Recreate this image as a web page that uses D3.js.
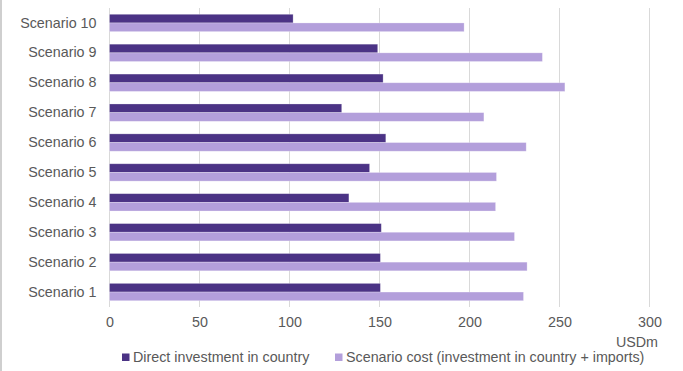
<!DOCTYPE html>
<html><head><meta charset="utf-8">
<script src="https://cdn.jsdelivr.net/npm/d3@7"></script>
<style>body{margin:0;background:#fff;} svg{display:block;font-family:"Liberation Sans",Arial,sans-serif;}</style>
</head><body><svg id="c" width="683" height="371"></svg>
<script>
const categories = ["Scenario 1","Scenario 2","Scenario 3","Scenario 4","Scenario 5","Scenario 6","Scenario 7","Scenario 8","Scenario 9","Scenario 10"];
const directInvestment = [150.5, 150.5, 151, 133, 144.5, 153.5, 129, 152, 149, 102];
const scenarioCost = [230, 232, 225, 214.5, 215, 231.5, 208, 253, 240.5, 197];
const seriesNames = ["Direct investment in country", "Scenario cost (investment in country + imports)"];
const xTicks = [0, 50, 100, 150, 200, 250, 300];
const unitLabel = "USDm";

const svg = d3.select("#c");
const m = {left: 109.5, right: 649.5, top: 8, bottom: 307};
const x = d3.scaleLinear().domain([0, 300]).range([m.left, m.right]);
const y = d3.scaleBand().domain(categories.slice().reverse()).range([m.top, m.bottom]).paddingInner(0.42).paddingOuter(0.21);
const sub = d3.scaleBand().domain([0,1]).range([0, y.bandwidth()]);
const colors = ["#4b3385", "#b39fdb"];
const textCol = "#595959";
const fs = "14.3px";

// left border line of chart area
svg.append("line").attr("x1",1).attr("x2",1).attr("y1",0).attr("y2",371).attr("stroke","#bfbfbf").attr("stroke-width",1.5);

// gridlines
svg.append("g").selectAll("line").data(xTicks).join("line")
  .attr("x1", d=>x(d)).attr("x2", d=>x(d)).attr("y1", m.top).attr("y2", m.bottom)
  .attr("stroke", "#d9d9d9").attr("stroke-width", 1);

// bars
const data = categories.map((c,i)=>({c, vals:[directInvestment[i], scenarioCost[i]]}));
const g = svg.append("g");
data.forEach(d=>{
  d.vals.forEach((v,k)=>{
    g.append("rect").attr("x", x(0)).attr("y", y(d.c)+sub(k)).attr("width", x(v)-x(0)).attr("height", sub.bandwidth())
      .attr("fill", colors[k]).attr("stroke","#ffffff").attr("stroke-opacity",0.35).attr("stroke-width",0.75);
  });
});

// y axis labels
const yAxis = d3.axisLeft(y).tickSize(0).tickPadding(13);
const ya = svg.append("g").attr("transform", `translate(${m.left},0)`).call(yAxis);
ya.select(".domain").remove();
ya.selectAll("text").attr("fill", textCol).attr("font-size", fs).attr("font-family","Liberation Sans, Arial, sans-serif");

// x axis labels
const xAxis = d3.axisBottom(x).tickValues(xTicks).tickSize(0).tickPadding(10);
const xa = svg.append("g").attr("transform", `translate(0,${m.bottom})`).call(xAxis);
xa.select(".domain").remove();
xa.selectAll("text").attr("fill", textCol).attr("font-size", fs).attr("font-family","Liberation Sans, Arial, sans-serif");

// unit label
svg.append("text").attr("x", 658).attr("y", 347).attr("text-anchor","end").attr("fill", textCol).attr("font-size",fs).text(unitLabel);

// legend
const legendItems = [{x:122, name: seriesNames[0], col: colors[0]}, {x:335, name: seriesNames[1], col: colors[1]}];
legendItems.forEach(l=>{
  svg.append("rect").attr("x", l.x).attr("y", 353.5).attr("width", 7.5).attr("height", 7.5).attr("fill", l.col);
  svg.append("text").attr("x", l.x+11).attr("y", 362).attr("fill", textCol).attr("font-size",fs).text(l.name);
});
</script></body></html>
